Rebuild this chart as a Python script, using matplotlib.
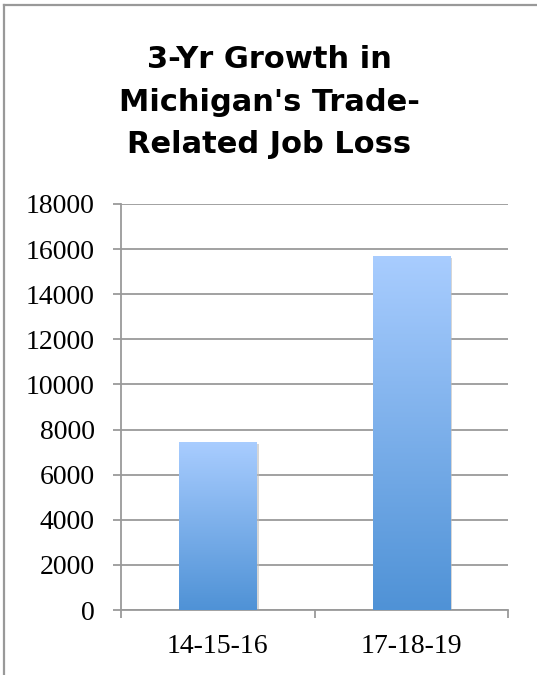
import numpy as np
import matplotlib
matplotlib.use('Agg')
import matplotlib.pyplot as plt
from matplotlib.lines import Line2D
from matplotlib.colors import LinearSegmentedColormap
import matplotlib.patheffects as pe

# data
categories = ['14-15-16', '17-18-19']
job_loss = [7450, 15700]
y_ticks = [0, 2000, 4000, 6000, 8000, 10000, 12000, 14000, 16000, 18000]
title_lines = ["3-Yr Growth in", "Michigan's Trade-", "Related Job Loss"]

W, H = 537, 675
fig = plt.figure(figsize=(W / 100, H / 100), dpi=100)
fig.patch.set_facecolor('white')

# plot area in pixel coords
left, right, top, bottom = 121, 508, 204, 610
ax = fig.add_axes([left / W, 1 - bottom / H, (right - left) / W, (bottom - top) / H])

grid_color = '#9a9a9a'
x = np.arange(len(categories))
bars = ax.bar(x, job_loss, width=0.40, facecolor='none', edgecolor='none', zorder=3)

# gradient fill for each bar
cmap = LinearSegmentedColormap.from_list('blue_grad', ['#4f92d6', '#a9cdff'])
grad = np.linspace(0, 1, 256).reshape(-1, 1)
for b in bars:
    x0, y0 = b.get_x(), b.get_y()
    w, h = b.get_width(), b.get_height()
    shadow = plt.Rectangle((x0, y0), w, h, facecolor='none', edgecolor='none', zorder=2)
    shadow.set_path_effects([pe.SimplePatchShadow(offset=(1.5, -1.5), shadow_rgbFace='#bbbbbb', alpha=0.6)])
    ax.add_patch(shadow)
    im = ax.imshow(grad, extent=[x0, x0 + w, y0, y0 + h], origin='lower',
                   cmap=cmap, aspect='auto', zorder=3)
    im.set_clip_path(b)

ax.set_xlim(-0.5, len(categories) - 0.5)
ax.set_ylim(0, 18000)

# y axis
ax.set_yticks(y_ticks)
ax.set_yticklabels([str(v) for v in y_ticks], fontfamily='Liberation Serif', fontsize=20)
ax.yaxis.grid(True, color=grid_color, linewidth=1.3, zorder=0)
ax.set_axisbelow(True)

# x axis: ticks at category boundaries, labels at centers
ax.set_xticks(np.arange(-0.5, len(categories), 1.0))
ax.set_xticklabels([])
ax.set_xticks(x, minor=True)
ax.set_xticklabels(categories, minor=True, fontfamily='Liberation Serif', fontsize=20)
ax.tick_params(axis='x', which='minor', length=0, pad=17)
ax.tick_params(axis='x', which='major', length=6, width=1.3, color=grid_color)
ax.tick_params(axis='y', length=6, width=1.3, color=grid_color, pad=13)

for s in ['top', 'right']:
    ax.spines[s].set_visible(False)
for s in ['left', 'bottom']:
    ax.spines[s].set_color(grid_color)
    ax.spines[s].set_linewidth(1.3)

# title, three lines
baselines = [68, 111, 153]
for line, yb in zip(title_lines, baselines):
    fig.text(269 / W, 1 - yb / H, line, ha='center', va='baseline',
             fontfamily='DejaVu Sans', fontweight='bold', fontsize=22)

# outer frame (top and left edges)
fig.add_artist(Line2D([4 / W, 1], [1 - 5 / H, 1 - 5 / H], transform=fig.transFigure,
                      color='#999999', linewidth=1.6))
fig.add_artist(Line2D([4 / W, 4 / W], [0, 1 - 5 / H], transform=fig.transFigure,
                      color='#999999', linewidth=1.6))

fig.savefig('out.png', dpi=100)
